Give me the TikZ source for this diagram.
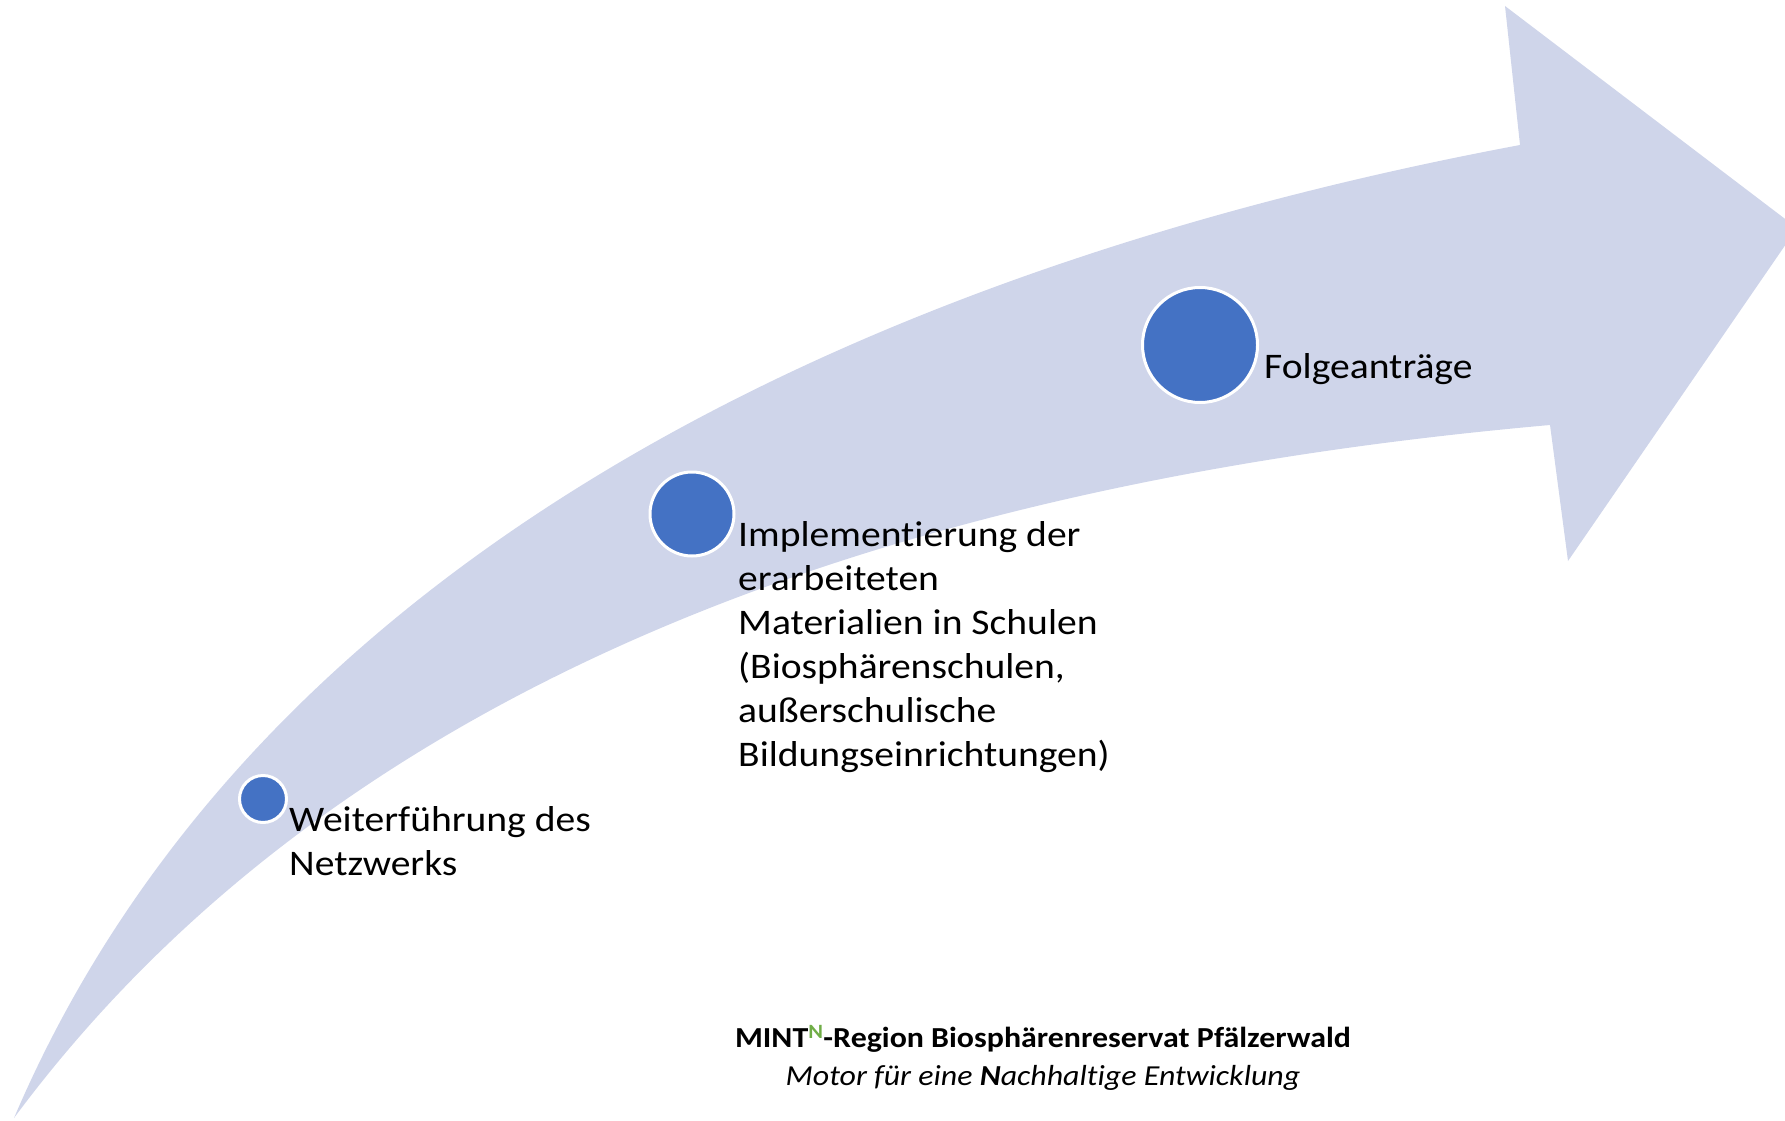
\documentclass[tikz,border=0pt]{standalone}
\usepackage{fontspec}
\setmainfont[FakeStretch=1.1, Ligatures=NoCommon]{Carlito}
\usepackage{xcolor}
\usepackage{tikz}
\definecolor{arrowBlue}{RGB}{207,213,234}
\definecolor{dotBlue}{RGB}{68,114,196}
\definecolor{mintGreen}{RGB}{112,173,71}
\tikzstyle{tsLabel} = [ 
    text=black, 
    font=\fontsize{36}{44}\selectfont,
    align=left,
    inner sep=0pt,
    anchor=base west
]
\tikzstyle{tsDot} = [ 
    circle,
    fill=dotBlue,
    draw=white,
    line width=3pt,
    inner sep=0pt
]
\tikzstyle{tsFooter} = [ 
    text=black, 
    font=\fontsize{29}{37.5}\selectfont,
    align=center,
    inner sep=0pt,
    anchor=base
]
\begin{document}
\begin{tikzpicture}[x=1pt, y=-1pt]

        \useasboundingbox (0,0) rectangle (1785,1121);

        % ascending arrow
        \begin{scope}
        \clip (0,0) rectangle (1785,1121);
        \fill[arrowBlue] (14,1118) .. controls (267,525) and (927,256) .. (1520,145)
            -- (1505,6) -- (1797,228) -- (1568,561) -- (1550,425)
            .. controls (986,475) and (370,638) .. (14,1118) -- cycle;
        \end{scope}

        \node[tsDot, minimum size=47pt] (dotNetz) at (263,799) {};
        \node[tsDot, minimum size=84pt] (dotMat) at (692,514) {};
        \node[tsDot, minimum size=115pt] (dotFolge) at (1200,345) {};

        % base anchor sits on the last line
        \node[tsLabel] (lblNetz) at (289,875) {Weiterführung des\\Netzwerks};
        \node[tsLabel] (lblMat) at (738,766) {Implementierung der\\erarbeiteten\\Materialien in Schulen\\(Biosphärenschulen,\\außerschulische\\Bildungseinrichtungen)};
        \node[tsLabel] (lblFolge) at (1264,378) {Folgeanträge};

        \node[tsFooter] (footer) at (1043,1085) {\textbf{MINT\textsuperscript{\textcolor{mintGreen}{N}}-Region Biosphärenreservat Pfälzerwald}\\\textit{Motor für eine \textbf{N}achhaltige Entwicklung}};

\end{tikzpicture}
\end{document}
